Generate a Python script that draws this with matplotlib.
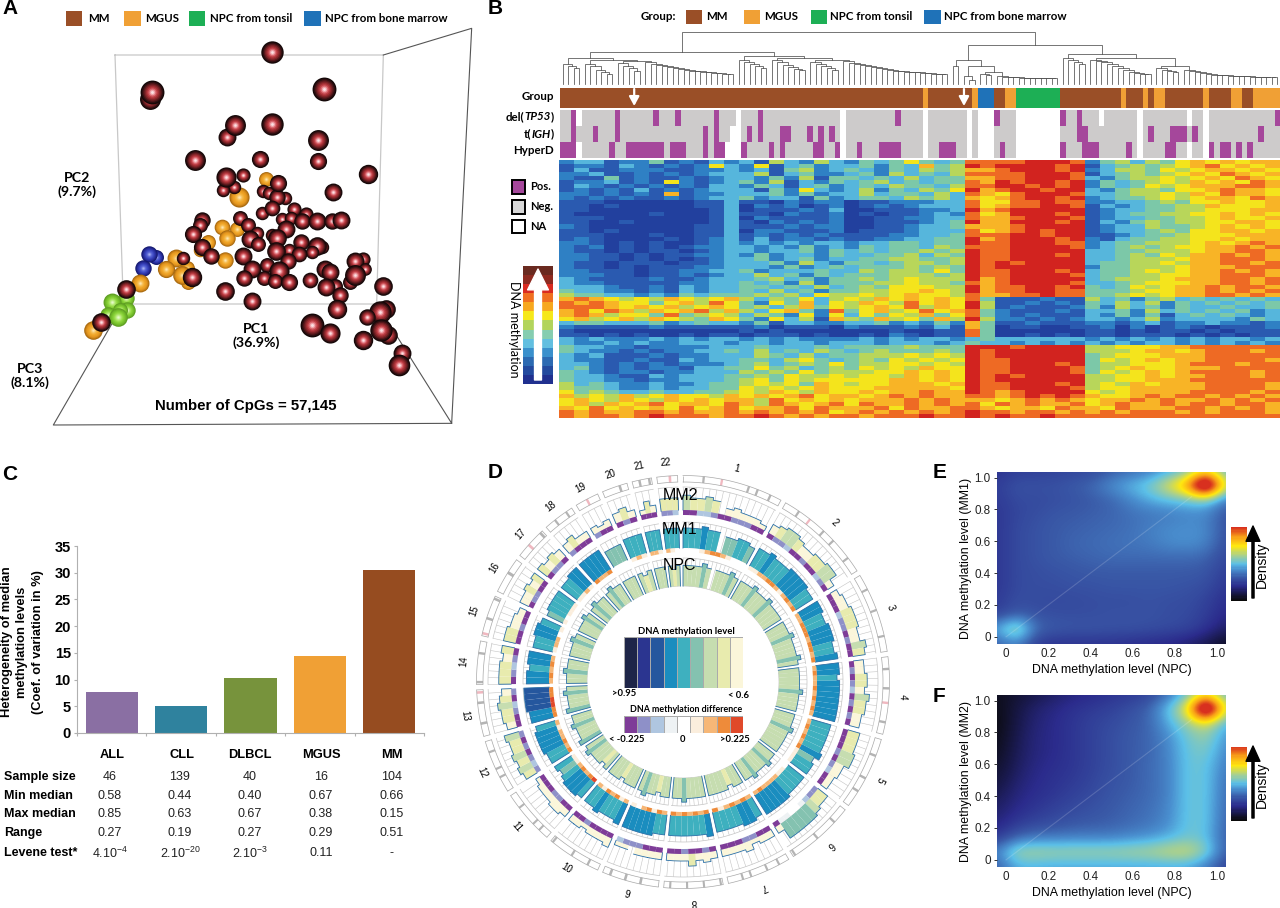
import numpy as np
import matplotlib
matplotlib.use("Agg")
import matplotlib.pyplot as plt
from matplotlib.colors import ListedColormap, LinearSegmentedColormap

W, H = 1280, 908
plt.rcParams['font.family'] = ['Liberation Sans', 'DejaVu Sans']
plt.rcParams['mathtext.default'] = 'regular'

# ---------------- shared legend
GROUP_COLORS = {'M': '#9A4F27', 'G': '#F0A035', 'T': '#1DAF55', 'B': '#1F72B8'}
GROUP_LABELS = ['MM', 'MGUS', 'NPC from tonsil', 'NPC from bone marrow']

# ---------------- panel A (PCA), picture units of 1/3 px: x, y, radius
mm_pts = [(550,775,18),(816,155,30),(450,296,28),(456,275,32),(973,268,32),(680,410,24),(706,376,28),(816,373,30),
 (953,419,28),(586,480,28),(779,477,23),(955,484,23),(1104,522,26),(729,524,19),(702,560,18),(670,570,18),(677,532,27),
 (788,572,18),(808,578,18),(855,594,18),(830,590,22),(835,549,23),(998,577,24),(787,640,18),(815,625,21),(882,628,19),
 (919,642,19),(845,658,18),(874,654,18),(905,662,22),(950,662,24),(997,662,22),(1022,660,24),(607,660,22),(600,675,20),
 (578,702,23),(719,654,20),(745,675,20),(770,700,18),(815,705,18),(858,688,24),(830,714,25),(750,718,24),(775,732,20),
 (902,727,22),(965,740,18),(950,737,25),(937,757,18),(607,742,23),(634,768,22),(729,768,24),(866,750,18),(828,753,25),
 (898,762,21),(863,782,22),(802,794,20),(755,807,24),(838,812,27),(732,835,22),(793,835,20),(826,842,20),(868,846,23),
 (929,840,21),(675,873,25),(755,902,24),(975,806,24),(990,817,24),(1005,858,20),(978,862,24),(1020,885,22),(1011,926,26),
 (1090,777,19),(1065,782,24),(1095,808,17),(1050,847,20),(1065,825,28),(1148,858,25),(1158,927,25),(1140,935,30),
 (1102,950,22),(935,976,32),(990,998,27),(1089,1021,26),(1165,1005,25),(1143,990,30),(1207,1060,24),(1198,1095,29)]
mm_front_pts = [(576,831,26),(378,867,25),(302,965,25)]
mgus_pts = [(799,538,20),(716,592,27),(600,750,18),(624,725,20),(665,680,21),(711,687,20),(680,715,22),(676,780,22),
 (528,775,24),(560,805,20),(565,845,20),(497,806,23),(545,825,25),(419,850,24),(278,990,25)]
bm_pts = [(468,770,20),(448,762,22),(430,805,22)]
tonsil_pts = [(378,893,22),(335,905,24),(380,930,22),(325,945,22),(360,930,20),(355,950,25)]
box_back = [(345,165),(1150,165),(1130,912),(370,912),(345,165)]
box_side = [(1150,165),(1415,85),(1355,1270),(1130,912)]
box_floor = [(370,912),(160,1275),(1355,1270)]

# ---------------- panel B
group_runs = "M66 G1 M8 G1 B3 M2 G2 T8 M11 G1 M3 G1 M1 G2 M7 G1 M4 G2 M2 G5"
tp53_runs = "N2 P1 W1 N6 P1 N6 P1 N3 P1 N6 P1 N3 W1 N3 P1 N14 W1 N9 P1 N4 W1 N7 W1 N1 W3 P1 N3 W8 P1 N2 P1 N3 W1 N6 W1 N8 W1 N2 W1 N12 P1"
igh_runs = "N2 P1 N3 P1 N3 P1 N15 P1 N1 P1 N2 W2 N1 P1 N1 P1 N3 P2 N3 P1 N1 P1 N1 P1 N1 W1 N14 W1 N7 W1 N1 W3 N4 W8 N3 P2 N9 W1 N1 P1 N3 P3 N1 P1 N1 W1 N9 P1 N3"
hyper_runs = "P3 W1 N5 P1 N2 P7 N1 P3 N3 P1 N1 P2 W3 P1 N4 P1 N1 P1 N5 P2 N2 P1 W1 N2 P1 N3 P4 N4 W1 N2 P3 N2 W1 N1 W3 N1 P1 N2 W8 P1 N3 P3 N5 P1 N1 W1 N4 P2 N2 W1 N2 W1 P1 N1 P2 N1 P1 N1 P1 N5"
track_rows = [tp53_runs, igh_runs, hyper_runs]
arrow_columns = [13, 73]
heat_rows = [
 "233122412132 3153253 24346434 8 8889998 2453546767677",
 "122132121263 2613423 34243745 9 8999989 1345456786767",
 "131122211223 2314523 43243545 7 7899989 2355465677676",
 "223112121233 3513422 34253435 8 8889998 1345456768767",
 "211412112123 3242514 43435344 7 7889998 3245565676876",
 "122312162123 4251324 34534344 8 7989989 2434565767687",
 "132121212133 2431342 34354435 8 8998989 2434656777887",
 "121213121233 3142632 35243546 9 7899899 3245546678776",
 "221212171223 3342423 35344353 8 7689998 3345565768776",
 "212121121233 4233142 34435453 7 6789989 2344565677687",
 "111000000113 1102122 01122233 8 6688988 2233454667667",
 "110100000113 0212012 01212333 8 6788998 1323445576667",
 "110000000013 0111213 00111223 9 7899999 1233445566677",
 "100000100013 1102112 01011232 8 6799989 1234455667676",
 "111000000013 0211112 00112233 8 7789998 1233445567667",
 "110010000013 1021212 00111234 9 7799989 1324545566776",
 "210000000113 1112122 00112334 7 7789999 1233544567676",
 "110100000113 0221112 01112333 8 6789899 1233454667767",
 "111000100113 1212121 11122334 8 8899899 1123445666777",
 "121000010123 1312212 11223344 9 7899989 2134455667677",
 "221010100123 2323233 23344344 9 8899988 2344555676787",
 "212010101223 3232423 24344354 8 8899998 2345456677878",
 "211010110123 3233424 34344545 9 8899999 3344555677887",
 "221101011223 2423324 33445354 9 8899989 3345465778787",
 "221101010123 3423423 34455445 9 8899999 3345556778887",
 "211011101123 3342532 44345545 9 8989999 3445565778878",
 "211010111223 3324234 34445454 9 8999999 2445556777888",
 "221110112233 4233343 35455464 9 8899989 3445656778787",
 "222110112123 3534243 44455545 9 8899998 3445566778887",
 "321111211233 3453424 45456555 9 7899999 3455567778878",
 "322111112233 4342524 44556554 8 7899998 3345666778878",
 "333211213233 4434353 45466655 9 7889989 4346567787887",
 "433221213233 4353424 45566765 9 7889988 4445667787878",
 "544332324344 4545365 56567665 8 7788988 4456567788787",
 "787656576567 5354635 65767676 8 4111211 5342453434343",
 "878766467586 4264736 57658676 9 5112121 4353524343434",
 "888767675676 4535746 56768576 9 5121112 4253424334334",
 "786875767857 5367428 46756867 8 4211121 3342534343423",
 "787566484565 3542626 36465746 8 4212111 3242413434323",
 "675675765476 4263517 54756475 9 5221212 3323523333243",
 "344333423433 2413322 33423242 7 4112111 2212312232212",
 "211111211111 1201110 21112131 7 4011001 1202012101112",
 "100000000000 1010000 00010011 8 4000000 1101011010111",
 "110101001011 0111010 01021011 8 4001010 1101110101011",
 "323222323233 2323222 23232332 3 4333333 2323232323323",
 "322323223332 3323323 33233323 4 3323232 3232332323232",
 "433221222233 3433343 44445444 9 9989999 5566677888888",
 "432212122334 3534354 34544454 9 8999999 5556776788878",
 "323111212233 3543534 45556565 9 8999999 4566677788888",
 "322112113233 4435643 45465656 9 8899999 4656767788887",
 "332121212223 4534546 45566565 9 8899989 4556667888788",
 "342121221334 4645345 46565766 9 8899998 4567667778888",
 "432122122333 5454645 55667676 9 8899998 4656767888878",
 "433211323334 4546556 56657676 9 8989999 5566767788878",
 "433221223334 5646566 66677676 9 8999999 5566777888888",
 "534322322344 5656476 56677767 9 8899989 5657677788887",
 "544322323344 6565676 66777776 9 8899998 5667777788887",
 "645433433445 6576576 67677877 9 8789999 6567777888878",
 "756575676657 6767867 76787877 8 8789898 7667878878787",
 "676576576767 7586767 67778787 7 7678787 6778787787878",
 "675767867768 7587678 68778787 8 6878778 6787787887887",
 "768676768678 6778687 77868778 8 7677687 7687778878787",
 "878778878778 7878786 78787878 9 8878878 7878887878887",
 "878878988878 8987878 87888988 9 8988988 8888888888888"]
heat_colors = ['#22409E','#2A5AB0','#2F80C4','#56B6DC','#7CC8A8','#B8D65A','#F4E41C','#F8B426','#EE6A24','#D2231F']
bar_colors_b = ['#20308F','#234A9E','#2C6AB2','#3A90CC','#62BFE0','#86CDB0','#B2D45C','#F6E81A','#F7A81F','#F07020','#D92B20','#8E2A20','#6A2A20']

def comb(hs):
    node = None
    for h in reversed(hs):
        node = (h, None, node)
    return node
L1 = (58, comb([64,66,68]), (60, comb([64,66,70,72,74]), (61, comb([63,66,68,71]),
      comb([62,64,65,66,67,68,69,70,71,71,72,72,73,73,74,74]))))
L2 = (56, comb([60,62,64,66,68]), (58, comb([60,62,65,67,69,70]), (60, comb([62,64,66,68,70]),
      comb([61,63,64,65,66,67,68,69,70,71,71,72,72,72,73,73,74,74,74]))))
MID = (60, (66, None, None), (66, (76, None, (80, None, None)), (72, comb([74,75]),
      comb([76,77,77,77,78,78,78,78,78,78,78]))))
RIGHT = (54, comb([58,60,62,64]), (58, comb([60,61,62,64,66,68,70,72,73,74,74]), (66, comb([68,70,71,72]),
      comb([70,71,72,73,74,75,75,75,76,76,76,76,77,77,77,77,77]))))
dendro_tree = (32, (52, L1, L2), (45, MID, RIGHT))

# ---------------- panel C
c_groups = ['ALL', 'CLL', 'DLBCL', 'MGUS', 'MM']
c_values = [7.7, 5.1, 10.3, 14.4, 30.6]
c_colors = ['#8A6FA3', '#2F829E', '#77933C', '#F0A035', '#964C20']
c_rows = ['Sample size', 'Min median', 'Max median', 'Range', 'Levene test*']
c_table = [['46','139','40','16','104'],
           ['0.58','0.44','0.40','0.67','0.66'],
           ['0.85','0.63','0.67','0.38','0.15'],
           ['0.27','0.19','0.27','0.29','0.51'],
           ['4.10$^{-4}$','2.10$^{-20}$','2.10$^{-3}$','0.11','-']]

# ---------------- panel D
chrom_mb = [249,243,198,191,181,171,159,146,141,135,135,133,115,107,102,90,81,78,59,63,48,51]
mm2_vals = ["54454-232221","345543344552","2334443354","3344354433","444553322","445666662","2213222","2324222","2222-11",
 "3222122","2332221","4545445","344543","44434","44332","33434","4343","3422","212","342","142","444"]
mm2_diff = ["002210011100","011200100210","0002110100","0101201010","000101200","112344330","0011000","0100100","0001112",
 "0000100","0011000","1210101","001201","01210","00100","01100","0110","1000","100","010","000","112"]
mm1_vals = ["777877-66776","778777888877","8877888778","8878888888","777778677","777788888","7887777","8777777","7788888",
 "8777877","7888767","7788887","889999","88788","77887","67777","7788","8888","666","777","777","777"]
mm1_diff = ["444567765444","556677656767","6677767767","6766767676","676767555","455666676","6767657","7676767","6757645",
 "6576756","8767655","7676656","778877","67676","56645","54555","5565","7667","444","565","665","654"]
npc_vals = ["555565-55565","555655565555","5556555565","5555565555","555655555","556555655","5545555","5555655","5545565",
 "5554555","5455565","6555655","655565","55655","55565","55565","5655","5655","555","545","555","545"]
ideograms = ["....g...p.....g.g..g..","...g..p...g..g....g...","...g....g.....g...","..g...g..p...g..","...g....g..g...","...g....g.....g",
 "..g..g...g.g...","g...g...g...g.","...g..g..g.","..g...g....g","..g.g....g...","...g.g...g..","..g...g.p","g.....g..","p..g...g",
 "...g..","..p..g","..g..g.","..p..","...g.",".g.g","..p."]
level_colors = ['#1E2548','#2B3590','#25579E','#1A8DBF','#3EB0BF','#84C2B0','#C6DDB0','#E8EBAE','#FBF6DA']
diff_colors = ['#7E3C98','#8E90C8','#AFC6E0','#EEF2F4','#FFFFFF','#FBEEDD','#F6B777','#EE8B3A','#E0492A']

# ---------------- panels E / F, rows from y=1.04 down to y=-0.04
density_e = [
 [2.0,2.3,2.3,2.4,2.5,2.6,3.0,3.3,3.6,4.2,5.0,7.0,4.5],
 [2.3,2.8,2.8,2.8,3.0,3.3,4.0,4.6,5.2,6.8,8.6,14.0,6.5],
 [2.2,2.6,2.6,2.7,2.8,3.0,3.2,3.8,4.4,4.7,4.9,5.2,3.4],
 [2.1,2.5,2.7,2.9,3.0,3.1,3.2,3.4,3.5,3.6,3.8,3.8,2.8],
 [2.1,2.6,2.8,3.0,3.1,3.2,3.3,3.4,3.7,3.9,4.0,3.9,2.8],
 [2.1,2.6,2.8,3.0,3.2,3.3,3.4,3.5,3.6,3.9,4.0,3.8,2.7],
 [2.1,2.6,2.8,3.0,3.1,3.2,3.3,3.3,3.3,3.3,3.3,3.2,2.5],
 [2.1,2.6,2.7,2.8,2.9,3.0,3.0,3.0,3.0,3.0,3.0,2.9,2.3],
 [2.1,2.6,2.7,2.7,2.8,2.8,2.9,2.9,2.9,2.9,2.8,2.7,2.1],
 [2.2,2.7,2.6,2.6,2.6,2.7,2.7,2.7,2.8,2.7,2.7,2.4,1.9],
 [2.4,3.0,2.8,2.7,2.7,2.7,2.8,2.8,2.8,2.7,2.6,2.3,1.7],
 [4.4,6.6,3.3,3.0,2.9,2.9,2.8,2.8,2.7,2.6,2.5,2.0,1.3],
 [3.0,3.8,2.2,2.0,2.0,2.0,2.0,1.9,1.8,1.7,1.4,1.0,0.3]]
density_f = [
 [0.3,0.6,0.9,1.3,1.6,1.8,2.0,2.2,2.4,3.4,4.8,7.0,4.5],
 [0.2,0.8,1.4,1.7,2.0,2.2,2.4,2.7,3.2,4.8,7.0,14.0,6.5],
 [0.1,0.9,1.5,1.8,2.1,2.4,2.6,2.9,3.2,4.4,5.6,6.6,4.4],
 [0.2,1.0,1.6,1.8,2.1,2.4,2.7,3.0,3.2,3.9,5.0,5.6,4.0],
 [0.3,1.1,1.6,1.8,2.1,2.4,2.7,3.0,3.2,3.8,4.9,5.2,3.8],
 [0.5,1.2,1.7,1.9,2.1,2.4,2.7,3.0,3.3,3.7,4.9,4.9,3.6],
 [0.7,1.4,1.8,2.0,2.2,2.5,2.8,3.0,3.3,3.7,4.9,4.9,3.4],
 [1.0,1.6,1.9,2.1,2.4,2.6,2.9,3.1,3.3,3.7,4.9,4.9,3.3],
 [1.3,1.8,2.1,2.4,2.6,2.8,3.0,3.2,3.4,3.8,4.9,4.9,3.2],
 [1.6,2.2,2.5,2.7,2.9,3.0,3.1,3.3,3.5,3.9,4.9,4.9,3.1],
 [2.2,3.2,3.6,3.6,3.7,3.7,3.7,3.9,4.1,4.5,5.0,4.8,3.0],
 [3.8,5.9,5.9,5.8,5.8,5.8,5.8,5.9,6.0,6.4,6.5,5.4,3.0],
 [3.0,4.4,4.4,4.3,4.3,4.3,4.3,4.3,4.3,4.3,4.3,3.6,2.4]]
density_nodes = [0,1,1.8,3,4,4.7,5.8,7,8.2,9.4]
density_node_colors = ['#0A0A0A','#1A1A50','#2B2B8C','#3A5AA8','#4A90D0','#5CC0E8','#A8D090','#FFE810','#F9A018','#D8301F']

# ================= drawing
fig = plt.figure(figsize=(W/100, H/100), dpi=100, facecolor='white')
def px_axes(x0, y0, x1, y1, z=1, **kw):
    ax = fig.add_axes([x0/W, 1-y1/H, (x1-x0)/W, (y1-y0)/H], zorder=z, **kw)
    ax.patch.set_alpha(0)
    return ax
def expand(runs, mapping):
    toks = runs.split()
    return np.repeat([mapping[t[0]] for t in toks], [int(t[1:]) for t in toks])
LATO = ['Lato', 'DejaVu Sans']

ov = px_axes(0, 0, W, H, z=10)
ov.set_xlim(0, W); ov.set_ylim(H, 0); ov.axis('off')
for t, x, y in [('A',2,8),('B',488,9),('C',2,474),('D',488,473),('E',933,472),('F',933,696)]:
    ov.text(x, y, t, fontsize=15, fontweight='bold', va='center', ha='left')

# ---- A
a = px_axes(0, 0, 480, 430, z=2)
a.plot(*zip(*box_back), color='#C8C8C8', lw=0.9)
a.plot(*zip(*box_side), color='#555555', lw=0.8)
a.plot(*zip(*box_floor), color='#555555', lw=0.8)
def spheres(pts, shades, z):
    fracs = np.linspace(1.0, 0.12, len(shades))
    for i, (x, y, r) in enumerate(pts):
        for f, col in zip(fracs, shades):
            dd = 2*r/3*1.12*f*0.72
            a.scatter([x], [y], s=dd*dd, color=col, linewidths=0, zorder=z+i*0.01)
MM_SHADES = ['#140808','#2E0E10','#56181B','#7E2327','#A02E33','#BE3F46','#D9686F','#F0A5AB','#FBE2E4']
spheres(tonsil_pts, ['#5E9E22','#6CB028','#76C02C','#82CC34','#8FD53E','#A0E055','#B4E874','#CCF29A','#E4F9C8'], 3)
spheres(bm_pts, ['#14186E','#1E2488','#2A309F','#323AB0','#3C48C0','#4A56CC','#5A66D6','#7A86E2','#A4AEF0'], 3.5)
spheres(mgus_pts, ['#A86A10','#C88018','#E0931E','#EA9E24','#F0A528','#F3B03A','#F6BC50','#F9CE78','#FCE4B0'], 4)
spheres(mm_pts, MM_SHADES, 5)
spheres(mm_front_pts, MM_SHADES, 7)
a.set_xlim(0, 1440); a.set_ylim(1290, 0); a.axis('off')

for i, (x, tx, x1) in enumerate([(66,88,82),(124,145,141),(189,210,205),(304,325,321)]):
    ov.fill_between([x, x1], 11, 26, color=list(GROUP_COLORS.values())[i], lw=0)
    ov.text(tx, 18, GROUP_LABELS[i], fontsize=8.3, fontweight='bold', family=LATO, va='center')
for s, x, y in [('PC2\n(9.7%)',77,185),('PC1\n(36.9%)',256,336),('PC3\n(8.1%)',30,376)]:
    ov.text(x, y, s, fontsize=10.2, fontweight='bold', family=LATO, ha='center', va='center', linespacing=1.05)
ov.text(246, 406, 'Number of CpGs = 57,145', fontsize=10.8, fontweight='bold', ha='center', va='center')

# ---- B
ov.text(641, 17, 'Group:', fontsize=8.3, fontweight='bold', family=LATO, va='center')
for i, (x, x1, tx) in enumerate([(686,702,706),(744,760,764),(811,827,830),(924,941,944)]):
    ov.fill_between([x, x1], 10, 24, color=list(GROUP_COLORS.values())[i], lw=0)
    ov.text(tx, 17, GROUP_LABELS[i], fontsize=8.3, fontweight='bold', family=LATO, va='center')

d = px_axes(560, 25, 1280, 90, z=2)
d.set_xlim(560, 1280); d.set_ylim(90, 25); d.axis('off')
def n_leaves(n):
    return 1 if n is None else n_leaves(n[1]) + n_leaves(n[2])
total = n_leaves(dendro_tree)
counter = [0]
def draw_node(n):
    if n is None:
        x = 560 + (counter[0]+0.5)*720/total
        counter[0] += 1
        return x, 84
    xa, ya = draw_node(n[1]); xb, yb = draw_node(n[2])
    d.plot([xa, xa, xb, xb], [ya, n[0], n[0], yb], color='#505050', lw=0.55, solid_joinstyle='miter')
    return (xa+xb)/2, n[0]
draw_node(dendro_tree)

gcodes = list(GROUP_COLORS)
gseq = expand(group_runs, {k: i for i, k in enumerate(gcodes)})
g = px_axes(560, 88, 1280, 108, z=2)
g.pcolormesh(np.arange(len(gseq)+1), [0, 1], gseq[None, :], cmap=ListedColormap(list(GROUP_COLORS.values())), vmin=0, vmax=3)
g.axis('off')
for c_i in arrow_columns:
    g.annotate('', xy=(c_i+0.5, 0.1), xytext=(c_i+0.5, 0.95), arrowprops=dict(arrowstyle='-|>,head_width=0.3,head_length=0.55', color='white', lw=1.6, shrinkA=0, shrinkB=0))
state_map = {'P': 0, 'N': 1, 'W': 2}
state_cmap = ListedColormap(['#A5479B', '#CDCBCB', '#FFFFFF'])
for runs, y0 in zip(track_rows, [110, 126, 142]):
    seq = expand(runs, state_map)
    t_ax = px_axes(560, y0, 1280, y0+16, z=2)
    t_ax.pcolormesh(np.arange(len(seq)+1), [0, 1], seq[None, :], cmap=state_cmap, vmin=0, vmax=2)
    t_ax.axis('off')
renderer = fig.canvas.get_renderer()
def row_label(y, parts):
    x = 554
    for s, style in reversed(parts):
        tt = ov.text(x, y, s, fontsize=8.3, fontweight='bold', style=style, family=LATO, ha='right', va='center')
        x -= tt.get_window_extent(renderer).width
row_label(97, [('Group', 'normal')])
row_label(117, [('del(', 'normal'), ('TP53', 'italic'), (')', 'normal')])
row_label(134, [('t(', 'normal'), ('IGH', 'italic'), (')', 'normal')])
row_label(151, [('HyperD', 'normal')])

hm = np.array([[int(ch) for ch in r.replace(' ', '')] for r in heat_rows])
h_ax = px_axes(559, 160, 1280, 418, z=2)
h_ax.imshow(hm, cmap=ListedColormap(heat_colors), vmin=0, vmax=9, aspect='auto', interpolation='nearest')
h_ax.axis('off')

for i, (col, lab, y0, y1) in enumerate([('#A5479B','Pos.',180,194),('#D8D8D8','Neg.',200,214),('#FFFFFF','NA',220,233)]):
    ov.add_patch(plt.Rectangle((511.5, y0), 13, y1-y0, fc=col, ec='black', lw=1.4))
    ov.text(530, (y0+y1)/2, lab, fontsize=8, fontweight='bold', family=LATO, va='center')
cb = px_axes(523, 266, 553, 384, z=3)
cb.imshow(np.arange(len(bar_colors_b))[::-1, None], cmap=ListedColormap(bar_colors_b), aspect='auto', interpolation='nearest')
cb.axis('off')
ov.annotate('', xy=(538, 269), xytext=(538, 380), arrowprops=dict(width=5, headwidth=15, headlength=15, color='white', shrink=0))
ov.text(514, 329, 'DNA methylation', rotation=-90, fontsize=9, family=LATO, ha='center', va='center')

# ---- C
c = px_axes(77, 546, 424, 733, z=3)
c.bar(np.arange(5)+0.5, c_values, width=0.75, color=c_colors, linewidth=0)
c.set_xlim(0, 5); c.set_ylim(0, 35)
c.set_xticks(range(6)); c.set_xticklabels([])
c.set_yticks(range(0, 36, 5))
c.set_yticklabels([str(v) for v in range(0, 36, 5)], fontsize=10.5, fontweight='bold')
c.tick_params(axis='both', color='#B0B0B0', length=2.5, width=0.8, pad=2)
for s in ['top', 'right']:
    c.spines[s].set_visible(False)
for s in ['left', 'bottom']:
    c.spines[s].set_color('#B0B0B0')
for x, s in zip([7, 22, 38], ['Heterogeneity of median', 'methylation levels', '(Coef. of variation in %)']):
    ov.text(x, 642, s, rotation=90, fontsize=9.3, fontweight='bold', ha='center', va='center')
col_x = [112, 182, 250, 321, 392]
for x, s in zip(col_x, c_groups):
    ov.text(x, 755, s, fontsize=9.3, fontweight='bold', ha='center', va='center')
for y, lab, vals in zip([777, 796, 814, 833, 853], c_rows, c_table):
    ov.text(4, y, lab, fontsize=9, fontweight='bold', va='center')
    for x, v in zip(col_x, vals):
        ov.text(x-2 if x < 200 else x, y, v, fontsize=9, color='#222222', ha='center', va='center')

# ---- D (polar)
R_MAX = 209
p = fig.add_axes([(683-R_MAX)/W, 1-(682+R_MAX)/H, 2*R_MAX/W, 2*R_MAX/H], polar=True, zorder=4)
p.patch.set_alpha(0)
p.set_theta_zero_location('N'); p.set_theta_direction(-1)
GAP = 1.5
scale = (360 - GAP*len(chrom_mb)) / sum(chrom_mb)
starts, widths = [], []
pos = 0.0
for mb in chrom_mb:
    starts.append(pos); widths.append(mb*scale); pos += mb*scale + GAP
starts = np.array(starts); widths = np.array(widths)
def arc(r, t0, t1, **kw):
    th = np.radians(np.linspace(t0, t1, 30))
    p.plot(th, np.full(th.shape, r), **kw)
def level_index(ch):
    return {'0':8,'1':8,'2':8,'3':8,'4':7,'5':6,'6':5,'7':4,'8':3,'9':2}[ch]
def val(ch):
    return 0.35 + 0.07*int(ch)
def draw_track(vals, base, top, span):
    for t0, w, s in zip(starts, widths, vals):
        ticks = np.arange(t0, t0+w+0.01, 2.0)
        p.vlines(np.radians(ticks), base, top, color='#C4C4C4', lw=0.4, zorder=1)
        arc(top, t0, t0+w, color='#C4C4C4', lw=0.5, zorder=1)
        arc(base, t0, t0+w, color='#C4C4C4', lw=0.5, zorder=1)
        bw = w/len(s)
        ths, rs = [t0], [base]
        for i, ch in enumerate(s):
            th0 = t0 + i*bw
            if ch == '-':
                ths.append(np.nan); rs.append(np.nan); continue
            r = (val(ch)-0.3)/0.7*span
            p.bar(np.radians(th0+bw/2), r, width=np.radians(bw), bottom=base, color=level_colors[level_index(ch)], lw=0, zorder=2)
            ths += [th0, th0+bw]; rs += [base+r, base+r]
        ths.append(t0+w); rs.append(base)
        p.plot(np.radians(ths), rs, color='#2A6FA8', lw=0.6, zorder=3)
def draw_band(diffs, r0, r1):
    for t0, w, s in zip(starts, widths, diffs):
        bw = w/len(s)
        for i, ch in enumerate(s):
            p.bar(np.radians(t0+(i+0.5)*bw), r1-r0, width=np.radians(bw), bottom=r0, color=diff_colors[int(ch)], lw=0, zorder=2)
draw_track(mm2_vals, 172, 195, 26); draw_band(mm2_diff, 167, 172)
draw_track(mm1_vals, 134, 160, 26); draw_band(mm1_diff, 130, 134)
draw_track(npc_vals, 96, 124, 36)
for t0, w, s in zip(starts, widths, ideograms):
    bw = w/len(s)
    for i, ch in enumerate(s):
        if ch == '.':
            continue
        col = {'g': '#B4B4B4', 'p': '#F0B8C0'}[ch]
        p.bar(np.radians(t0+(i+0.5)*bw), 6.5, width=np.radians(bw*0.5), bottom=200, color=col, lw=0, zorder=2)
    arc(200, t0, t0+w, color='#A8A8A8', lw=0.5, zorder=3)
    arc(206.5, t0, t0+w, color='#A8A8A8', lw=0.5, zorder=3)
    p.vlines(np.radians([t0, t0+w]), 200, 206.5, color='#A8A8A8', lw=0.5, zorder=3)
for i, (t0, w) in enumerate(zip(starts, widths)):
    th = t0 + w/2
    rot = -th if th < 180 else (180-th if th < 270 else 360-th)
    p.text(np.radians(th), 220, str(i+1), fontsize=7, rotation=rot, rotation_mode='anchor', ha='center', va='center', clip_on=False)
p.set_ylim(0, R_MAX); p.axis('off')

for s, y in [('MM2',496),('MM1',530),('NPC',566)]:
    ov.text(680, y, s, fontsize=11.5, ha='center', va='center', color='black')
lv = px_axes(624, 637, 743, 688, z=11)
lv.pcolormesh(np.arange(10), [0, 1], np.arange(9)[None, :], cmap=ListedColormap(level_colors), edgecolors='#AAAAAA', linewidth=0.6)
lv.axis('off')
df = px_axes(624, 716, 743, 733, z=11)
df.pcolormesh(np.arange(10), [0, 1], np.arange(9)[None, :], cmap=ListedColormap(diff_colors), edgecolors='#AAAAAA', linewidth=0.6)
df.axis('off')
ov.text(686, 631, 'DNA methylation level', fontsize=6.8, fontweight='bold', family=LATO, ha='center', va='center')
ov.text(686, 709, 'DNA methylation difference', fontsize=6.4, fontweight='bold', family=LATO, ha='center', va='center')
for s, x, y in [('>0.95',624,694),('< 0.6',738,695),('< -0.225',627,740),('0',683,739),('>0.225',735,740)]:
    ov.text(x, y, s, fontsize=6.8, fontweight='bold', family=LATO, ha='center', va='center')

# ---- E, F
VMAX = density_nodes[-1]
dens_cmap = LinearSegmentedColormap.from_list('dens', [(n/VMAX, col) for n, col in zip(density_nodes, density_node_colors)])
def density_panel(grid, y0, y1, cb0, cb1, ylabel):
    ax = px_axes(997, y0, 1226, y1, z=3)
    ax.imshow(np.array(grid), extent=(-0.085, 1.085, -0.085, 1.085), cmap=dens_cmap, vmin=0, vmax=VMAX,
              aspect='auto', interpolation='bicubic', interpolation_stage='data', origin='upper')
    ax.plot([0.0, 0.88], [0.0, 0.88], color='white', alpha=0.16, lw=0.8)
    ax.set_xlim(-0.043, 1.043); ax.set_ylim(-0.045, 1.035)
    ticks = [0, 0.2, 0.4, 0.6, 0.8, 1.0]
    labs = ['0', '0.2', '0.4', '0.6', '0.8', '1.0']
    ax.set_xticks(ticks); ax.set_xticklabels(labs, fontsize=8.4, color='#222222')
    ax.set_yticks(ticks); ax.set_yticklabels(labs, fontsize=8.4, color='#222222')
    ax.tick_params(axis='x', length=0, pad=3)
    ax.tick_params(axis='y', length=2.5, width=0.7, color='#333333', pad=2)
    for s in ax.spines.values():
        s.set_visible(False)
    ax.set_xlabel('DNA methylation level (NPC)', fontsize=8.9, labelpad=3)
    ax.set_ylabel(ylabel, fontsize=8.9, labelpad=2)
    cbar = px_axes(1231, cb0, 1247, cb1, z=3)
    cbar.imshow(np.linspace(VMAX, 0, 64)[:, None], cmap=dens_cmap, vmin=0, vmax=VMAX, aspect='auto', interpolation='nearest')
    cbar.axis('off')
    ov.annotate('', xy=(1253, cb0-1), xytext=(1253, cb1-3), arrowprops=dict(width=1.5, headwidth=10, headlength=11, color='black', shrink=0))
    ov.text(1262, (cb0+cb1)/2+1, 'Density', rotation=90, fontsize=10, ha='center', va='center')
density_panel(density_e, 472, 644, 527, 601, 'DNA methylation level (MM1)')
density_panel(density_f, 695, 867, 747, 821, 'DNA methylation level (MM2)')

fig.savefig('out.png', dpi=100)
